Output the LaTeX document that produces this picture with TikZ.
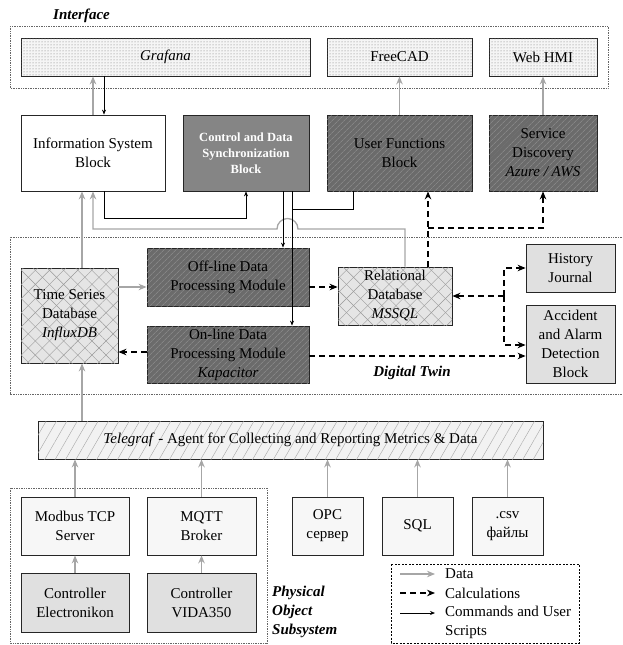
\documentclass[tikz,border=0pt]{standalone}
\usepackage{fontspec}
\setmainfont{Liberation Serif}
\usetikzlibrary{arrows.meta,patterns,patterns.meta}

\tikzset{
  blk/.style={draw=black!85, line width=0.8pt, inner sep=1pt, align=center},
  dotbox/.style={blk, fill=black!4, postaction={pattern=dots, pattern color=black!55}},
  plainbox/.style={blk, fill=white},
  srcbox/.style={blk, fill=black!3},
  greybox/.style={blk, fill=black!12},
  ctrlbox/.style={blk, fill=black!48, text=white, font=\fontsize{12.5}{16}\selectfont\bfseries},
  darkbox/.style={blk, fill=black!58,
    postaction={pattern={Lines[angle=45,distance=4pt,line width=0.5pt]}, pattern color=black!42}},
  hatchbox/.style={blk, fill=black!10,
    postaction={pattern={Lines[angle=45,distance=10pt,line width=0.4pt]}, pattern color=black!40},
    postaction={pattern={Lines[angle=-45,distance=10pt,line width=0.4pt]}, pattern color=black!40}},
  telebox/.style={blk, fill=black!5,
    postaction={pattern={Lines[angle=60,distance=9pt,line width=0.4pt]}, pattern color=black!35}},
  grpframe/.style={draw=black!60, densely dotted, line width=0.7pt},
  grplabel/.style={inner sep=0pt, font=\fontsize{15}{19}\selectfont\bfseries\itshape},
  legtext/.style={inner sep=0pt, anchor=west, align=left},
  dataflow/.style={draw=black!35, line width=1.3pt, -{Stealth[length=8pt,width=6.5pt]}},
  calcflow/.style={draw=black, line width=1.3pt, dash pattern=on 6pt off 4pt, -{Stealth[length=8pt,width=6.5pt]}},
  cmdflow/.style={draw=black, line width=0.7pt, -{Stealth[length=5pt,width=4pt]}},
  cmdline/.style={draw=black, line width=0.7pt}
}

\begin{document}
\begin{tikzpicture}[x=1pt,y=-1pt,font=\fontsize{15}{19}\selectfont]
\useasboundingbox (0,0) rectangle (622,645);
\def\toph{38} % height of the interface boxes
\def\rowh{76} % height of the second row
\def\srch{58} % height of the data sources

% group frames
\draw[grpframe] (10,26) rectangle (608,88);
\node[grplabel] (ifacelbl) at (81.5,16) {Interface};
\draw[grpframe] (622,237) -| (10,394) -- (622,394);
\node[grplabel] (dtlbl) at (412,373) {Digital Twin};
\draw[grpframe] (10,488) rectangle (267,643);
\node[grplabel, anchor=west, align=left] (poslbl) at (272,612) {Physical\\Object\\Subsystem};

% interface
\node[dotbox, minimum width=289, minimum height=\toph] (grafana) at (165.5,57) {\textit{Grafana}};
\node[dotbox, minimum width=145, minimum height=\toph] (freecad) at (399.5,57) {FreeCAD};
\node[dotbox, minimum width=108, minimum height=\toph] (webhmi) at (543,57) {Web HMI};

% second row
\node[plainbox, minimum width=144, minimum height=\rowh] (infosys) at (93,153) {Information System\\Block};
\node[ctrlbox, minimum width=126, minimum height=\rowh] (ctrlsync) at (246,153) {Control and Data\\Synchronization\\Block};
\node[darkbox, minimum width=145, minimum height=\rowh] (userfn) at (399.5,153) {User Functions\\Block};
\node[darkbox, minimum width=108, minimum height=\rowh] (srvdisc) at (543,153) {Service\\Discovery\\\textit{Azure / AWS}};

% digital twin
\node[hatchbox, minimum width=97, minimum height=95] (tsdb) at (69.5,315.5) {Time Series\\Database\\\textit{InfluxDB}};
\node[darkbox, minimum width=162, minimum height=58] (offline) at (228,277) {Off-line Data\\Processing Module};
\node[darkbox, minimum width=162, minimum height=57] (online) at (228,354.5) {On-line Data\\Processing Module\\\textit{Kapacitor}};
\node[hatchbox, minimum width=114, minimum height=58] (reldb) at (395,296) {Relational\\Database\\\textit{MSSQL}};
\node[greybox, minimum width=89, minimum height=48] (history) at (570.5,268) {History\\Journal};
\node[greybox, minimum width=89, minimum height=78] (alarm) at (570.5,344) {Accident\\and Alarm\\Detection\\Block};

% agent
\node[telebox, minimum width=505, minimum height=38] (telegraf) at (290.5,440) {\textit{Telegraf} - Agent for Collecting and Reporting Metrics \& Data};

% data sources
\node[srcbox, minimum width=108, minimum height=\srch] (modbus) at (75,526) {Modbus TCP\\Server};
\node[srcbox, minimum width=109, minimum height=\srch] (mqtt) at (201.5,526) {MQTT\\Broker};
\node[srcbox, minimum width=71, minimum height=\srch] (opc) at (327.5,526) {OPC\\сервер};
\node[srcbox, minimum width=71, minimum height=\srch] (sql) at (417.5,526) {SQL};
\node[srcbox, minimum width=71, minimum height=\srch] (csv) at (507.5,526) {.csv\\файлы};
\node[greybox, minimum width=108, minimum height=59] (ctrlel) at (75,602.5) {Controller\\Electronikon};
\node[greybox, minimum width=109, minimum height=59] (ctrlvida) at (201.5,602.5) {Controller\\VIDA350};

% data
\draw[dataflow] (infosys.north) -- (infosys.north |- grafana.south);
\draw[dataflow] (userfn.north) -- (freecad.south);
\draw[dataflow] (srvdisc.north) -- (webhmi.south);
\draw[dataflow] (tsdb.north -| 82,0) -- (infosys.south -| 82,0);
\draw[dataflow] (telegraf.north -| 82,0) -- (tsdb.south -| 82,0);
\draw[dataflow] (tsdb.east |- 0,287) -- (offline.west |- 0,287);
\draw[dataflow] (reldb.north -| 405,0) |- (298,229) arc[start angle=0,end angle=180,radius=10.5pt] -- (93,229) -- (infosys.south);
\foreach \src in {modbus,mqtt,opc,sql,csv}
  \draw[dataflow] (\src.north) -- (\src.north |- telegraf.south);
\draw[dataflow] (ctrlel.north) -- (modbus.south);
\draw[dataflow] (ctrlvida.north) -- (mqtt.south);

% calculations
\draw[calcflow] (offline.east |- 0,287) -- (reldb.west |- 0,287);
\draw[calcflow] (online.west |- 0,352) -- (tsdb.east |- 0,352);
\draw[calcflow] (online.east |- 0,356) -- (alarm.west |- 0,356);
\coordinate (upjoint) at (428,228);
\draw[calcflow] (reldb.north -| upjoint) -- (userfn.south -| upjoint);
\draw[calcflow] (upjoint) -| (srvdisc.south);
\coordinate (sidejoint) at (504,296);
\draw[calcflow] (sidejoint) -- (reldb.east);
\draw[calcflow] (sidejoint) |- (history.west);
\draw[calcflow] (sidejoint) |- (alarm.west |- 0,345);

% commands
\draw[cmdflow] (grafana.south -| 104,0) -- (infosys.north -| 104,0);
\draw[cmdflow] (infosys.south -| 104,0) |- (246,218) -- (ctrlsync.south);
\draw[cmdflow] (ctrlsync.south -| 283,0) -- (offline.north -| 283,0);
\draw[cmdflow] (ctrlsync.south -| 292,0) -- (online.north -| 292,0);
\draw[cmdline] (userfn.south -| 353,0) |- (292,209);

% legend
\draw[draw=black, line width=0.7pt, dash pattern=on 2pt off 1.5pt] (391,564) rectangle (579,643);
\node[legtext] (legdata) at (445,574) {Data};
\node[legtext] (legcalc) at (445,593) {Calculations};
\node[legtext] (legcmd) at (445,622.5) {Commands and User\\Scripts};
\draw[dataflow] ([xshift=-45pt]legdata.west) -- ([xshift=-10pt]legdata.west);
\draw[calcflow] ([xshift=-45pt]legcalc.west) -- ([xshift=-10pt]legcalc.west);
\draw[cmdflow] ([xshift=-45pt,yshift=9.5pt]legcmd.west) -- ([xshift=-10pt,yshift=9.5pt]legcmd.west);
\end{tikzpicture}
\end{document}
